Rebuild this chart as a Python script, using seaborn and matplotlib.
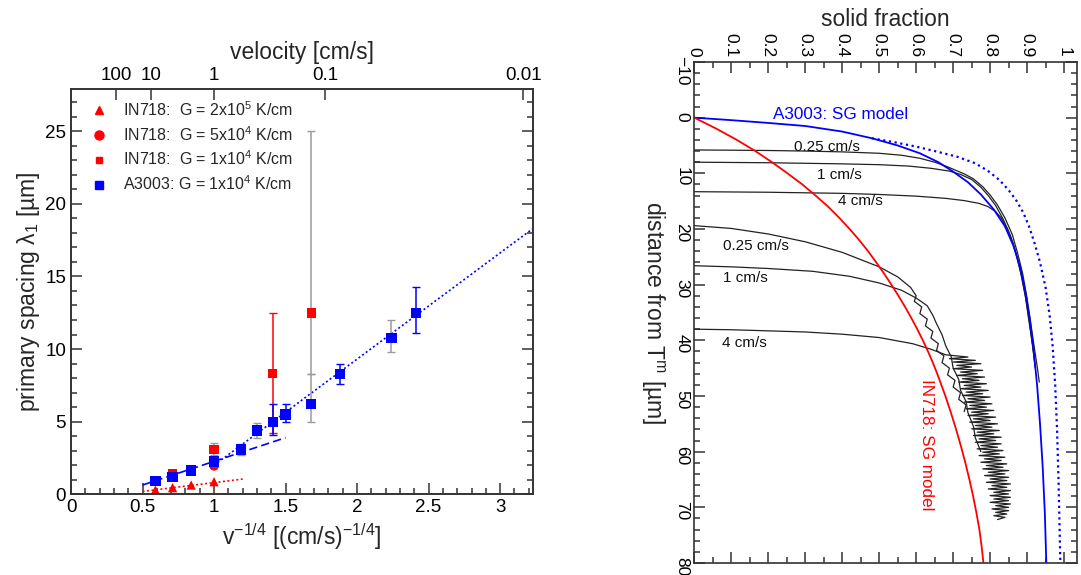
"""Primary spacing vs. velocity (left) and solid fraction profiles (right)."""
import matplotlib
matplotlib.use("Agg")
import seaborn as sns
import matplotlib.pyplot as plt
from matplotlib.lines import Line2D
from matplotlib.ticker import MultipleLocator, FixedLocator, FuncFormatter

# ---------------- left panel data: lambda_1 vs v^-1/4 ----------------
a3003_x = [0.59, 0.71, 0.84, 1.00, 1.19, 1.30, 1.41, 1.50, 1.68, 1.88, 2.24, 2.41]
a3003_y = [0.92, 1.21, 1.63, 2.27, 3.08, 4.39, 4.96, 5.50, 6.20, 8.30, 10.76, 12.48]
a3003_err_lo = [0.15, 0.20, 0.15, 0.30, 0.40, 0.50, 0.85, 0.50, 1.20, 0.70, 0.96, 1.38]
a3003_err_hi = [0.15, 0.20, 0.15, 0.30, 0.40, 0.50, 1.25, 0.70, 2.10, 0.70, 1.24, 1.80]

in718_g1e4_x = [0.71, 1.00, 1.41, 1.68]
in718_g1e4_y = [1.42, 3.10, 8.34, 12.48]
in718_g1e4_err_lo = [0.15, 0.40, 4.15, 4.20]
in718_g1e4_err_hi = [0.15, 0.40, 4.15, 12.50]

in718_g5e4_x = [0.71, 1.00]
in718_g5e4_y = [1.28, 1.97]

in718_g2e5_x = [0.59, 0.71, 0.84, 1.00]
in718_g2e5_y = [0.30, 0.46, 0.64, 0.87]

fit_a3003_low_x = [0.50, 1.50]
fit_a3003_low_y = [0.64, 3.90]
fit_a3003_high_x = [1.00, 3.23]
fit_a3003_high_y = [2.00, 18.30]
fit_in718_x = [0.50, 1.20]
fit_in718_y = [0.20, 1.05]

velocity_ticks = [100, 10, 1, 0.1, 0.01]
velocity_labels = ["100", "10", "1", "0.1", "0.01"]

legend_labels = [
    r"IN718:  G = 2x10$^{5}$ K/cm",
    r"IN718:  G = 5x10$^{4}$ K/cm",
    r"IN718:  G = 1x10$^{4}$ K/cm",
    r"A3003: G = 1x10$^{4}$ K/cm",
]

# ---------------- right panel data: solid fraction vs distance ----------------
sg_a3003_fs = [0.0, 0.10, 0.20, 0.30, 0.40, 0.48, 0.55, 0.61, 0.66, 0.70, 0.74,
               0.775, 0.81, 0.84, 0.863, 0.882, 0.896, 0.908, 0.918, 0.927,
               0.935, 0.942, 0.948, 0.952]
sg_a3003_d = [0.0, 0.45, 0.95, 1.5, 2.5, 3.7, 5.0, 6.4, 8.0, 9.7, 11.6,
              13.8, 16.5, 19.5, 23.0, 27.0, 31.5, 36.5, 42.0, 48.0,
              55.0, 62.5, 71.0, 80.0]

alt_a3003_fs = [0.48, 0.54, 0.60, 0.65, 0.71, 0.76, 0.795, 0.825, 0.85, 0.872,
                0.89, 0.905, 0.92, 0.935, 0.95, 0.961, 0.969, 0.976, 0.981,
                0.985, 0.99]
alt_a3003_d = [3.7, 4.4, 5.2, 6.0, 7.0, 8.2, 9.6, 11.2, 13.0, 15.0,
               17.1, 19.5, 22.5, 26.0, 30.5, 35.5, 41.0, 48.0, 56.0,
               65.0, 80.0]

sg_in718_fs = [0.0, 0.06, 0.115, 0.165, 0.21, 0.252, 0.292, 0.328, 0.362, 0.392,
               0.42, 0.446, 0.47, 0.492, 0.513, 0.533, 0.552, 0.57, 0.587,
               0.603, 0.618, 0.632, 0.645, 0.657, 0.668, 0.679, 0.694, 0.708,
               0.721, 0.733, 0.744, 0.754, 0.763, 0.771, 0.777, 0.782]
sg_in718_d = [0.0, 2.0, 4.0, 6.0, 8.0, 10.0, 12.0, 14.0, 16.0, 18.0,
              20.0, 22.0, 24.0, 26.0, 28.0, 30.0, 32.0, 34.0, 36.0,
              38.0, 40.0, 42.0, 44.0, 46.0, 48.0, 50.0, 53.0, 56.0,
              59.0, 62.0, 65.0, 68.0, 71.0, 74.0, 77.0, 80.0]

pf_a3003_025_fs = [0.0, 0.10, 0.20, 0.30, 0.40, 0.50, 0.56, 0.61, 0.65, 0.68, 0.705,
                   0.73, 0.755, 0.78, 0.80, 0.82, 0.84, 0.86, 0.875, 0.888, 0.90,
                   0.91, 0.92, 0.928, 0.933]
pf_a3003_025_d = [5.8, 5.85, 5.9, 6.0, 6.15, 6.4, 6.75, 7.3, 8.0, 8.7, 9.4,
                  10.1, 11.0, 12.4, 13.9, 15.7, 18.0, 21.0, 24.5, 28.0, 32.5,
                  37.0, 41.5, 45.0, 47.5]
pf_a3003_1_fs = [0.0, 0.10, 0.20, 0.30, 0.40, 0.50, 0.58, 0.64, 0.69, 0.72, 0.75,
                 0.775, 0.795, 0.815, 0.835, 0.855, 0.87, 0.883, 0.895, 0.905,
                 0.915, 0.922]
pf_a3003_1_d = [8.0, 8.05, 8.1, 8.2, 8.3, 8.45, 8.7, 9.1, 9.6, 10.2, 11.1,
                12.5, 14.0, 15.8, 18.2, 21.2, 24.5, 28.0, 32.0, 36.5,
                41.0, 45.0]
pf_a3003_4_fs = [0.0, 0.10, 0.20, 0.30, 0.40, 0.50, 0.60, 0.68, 0.73, 0.77, 0.795,
                 0.815, 0.83, 0.847, 0.862, 0.875, 0.887, 0.898, 0.907, 0.915, 0.92]
pf_a3003_4_d = [13.3, 13.35, 13.4, 13.5, 13.6, 13.8, 14.1, 14.5, 14.9, 15.4, 16.0,
                16.9, 18.0, 20.0, 22.5, 25.5, 29.0, 33.0, 37.0, 41.0, 43.5]

pf_in718_025_fs = [0.0, 0.10, 0.20, 0.30, 0.40, 0.50, 0.55, 0.585, 0.60, 0.595, 0.615,
                   0.61, 0.63, 0.625, 0.645, 0.64, 0.66, 0.655, 0.675, 0.67, 0.69,
                   0.685, 0.705, 0.70, 0.72, 0.715, 0.735, 0.73]
pf_in718_025_d = [19.4, 19.9, 20.9, 22.3, 24.2, 26.8, 28.6, 30.5, 32.0, 33.0, 34.0,
                  35.2, 36.2, 37.4, 38.4, 39.6, 40.6, 41.8, 42.8, 44.0, 45.0,
                  46.2, 47.2, 48.4, 49.4, 50.6, 51.6, 52.8]
pf_in718_1_fs = [0.0, 0.10, 0.20, 0.32, 0.42, 0.50, 0.56, 0.60, 0.63, 0.645, 0.655,
                 0.67, 0.68, 0.695, 0.70, 0.715, 0.72, 0.735, 0.74, 0.755, 0.76, 0.775]
pf_in718_1_d = [26.6, 26.8, 27.1, 27.6, 28.5, 29.7, 31.0, 32.4, 33.8, 35.5, 37.0,
                39.0, 41.0, 43.0, 45.0, 47.0, 49.0, 51.0, 53.0, 55.5, 57.5, 60.0]
pf_in718_4_fs = [
    0.0, 0.10, 0.20, 0.30, 0.40, 0.50, 0.59, 0.64, 0.68,
    0.74, 0.69, 0.76, 0.70, 0.775, 0.71, 0.75, 0.70, 0.78, 0.72,
    0.765, 0.71, 0.785, 0.725, 0.77, 0.715, 0.79, 0.73, 0.775, 0.72,
    0.795, 0.735, 0.78, 0.725, 0.80, 0.74, 0.785, 0.73, 0.805, 0.745,
    0.79, 0.735, 0.81, 0.75, 0.795, 0.74, 0.815, 0.755, 0.80, 0.745,
    0.82, 0.76, 0.805, 0.75, 0.825, 0.765, 0.81, 0.755, 0.83, 0.77,
    0.815, 0.76, 0.83, 0.775, 0.82, 0.765, 0.835, 0.78, 0.825, 0.77,
    0.84, 0.785, 0.83, 0.775, 0.845, 0.79, 0.835, 0.78, 0.85, 0.795,
    0.84, 0.785, 0.85, 0.80, 0.845, 0.79, 0.855, 0.805, 0.845, 0.795,
    0.855, 0.81, 0.85, 0.80, 0.855, 0.81, 0.85, 0.80, 0.855, 0.815,
    0.85, 0.805, 0.85, 0.815, 0.845, 0.81, 0.84, 0.82,
]
pf_in718_4_d = [
    38.0, 38.1, 38.3, 38.5, 38.9, 39.5, 40.6, 41.6, 42.6,
    43.0, 43.3, 43.6, 43.9, 44.2, 44.5, 44.8, 45.1, 45.4, 45.7,
    46.0, 46.3, 46.6, 46.9, 47.2, 47.5, 47.8, 48.1, 48.4, 48.7,
    49.0, 49.3, 49.6, 49.9, 50.2, 50.5, 50.8, 51.1, 51.4, 51.7,
    52.0, 52.3, 52.6, 52.9, 53.2, 53.5, 53.8, 54.1, 54.4, 54.7,
    55.0, 55.3, 55.6, 55.9, 56.2, 56.5, 56.8, 57.1, 57.4, 57.7,
    58.0, 58.3, 58.6, 58.9, 59.2, 59.5, 59.8, 60.1, 60.4, 60.7,
    61.0, 61.3, 61.6, 61.9, 62.2, 62.5, 62.8, 63.1, 63.4, 63.7,
    64.0, 64.3, 64.6, 64.9, 65.2, 65.5, 65.8, 66.1, 66.4, 66.7,
    67.0, 67.3, 67.6, 67.9, 68.2, 68.5, 68.8, 69.1, 69.4, 69.7,
    70.0, 70.3, 70.6, 70.9, 71.2, 71.5, 71.8, 72.2,
]

RED = "#ff0000"
BLUE = "#0000ff"
GRAY = "#9a9a9a"
a3003_bar_colors = [BLUE, BLUE, BLUE, GRAY, GRAY, GRAY, BLUE, BLUE, GRAY, BLUE, GRAY, BLUE]
in718_bar_colors = [GRAY, GRAY, RED, GRAY]

sns.set_style("ticks")
plt.rcParams["font.family"] = ["Liberation Sans", "DejaVu Sans"]
plt.rcParams["mathtext.fontset"] = "custom"
plt.rcParams["mathtext.rm"] = "Liberation Sans"
plt.rcParams["mathtext.it"] = "Liberation Sans:italic"
plt.rcParams["axes.linewidth"] = 1.2
plt.rcParams["axes.edgecolor"] = "#333333"

fig = plt.figure(figsize=(10.81, 5.75), dpi=100)


def style_ticks(ax, size):
    ax.tick_params(which="major", direction="in", length=8, width=1.1,
                   labelsize=size, colors="#333333", labelcolor="black")
    ax.tick_params(which="minor", direction="in", length=4.5, width=1.1,
                   colors="#333333")


# ================= left panel =================
ax = fig.add_axes([0.0657, 0.1403, 0.4274, 0.7049])

sns.lineplot(x=fit_in718_x, y=fit_in718_y, ax=ax, color=RED, lw=1.2,
             linestyle=(0, (1.2, 1.5)), sort=False, estimator=None)
sns.lineplot(x=fit_a3003_low_x, y=fit_a3003_low_y, ax=ax, color=BLUE, lw=1.2,
             linestyle=(0, (5, 2.5)), sort=False, estimator=None)
sns.lineplot(x=fit_a3003_high_x, y=fit_a3003_high_y, ax=ax, color=BLUE, lw=1.2,
             linestyle=(0, (1.2, 1.5)), sort=False, estimator=None)

for x, y, lo, hi, c in zip(in718_g1e4_x, in718_g1e4_y, in718_g1e4_err_lo,
                           in718_g1e4_err_hi, in718_bar_colors):
    ax.errorbar([x], [y], yerr=[[lo], [hi]], fmt="none", ecolor=c,
                elinewidth=1.1, capsize=3, capthick=1.0, zorder=2)
for x, y, lo, hi, c in zip(a3003_x, a3003_y, a3003_err_lo, a3003_err_hi,
                           a3003_bar_colors):
    ax.errorbar([x], [y], yerr=[[lo], [hi]], fmt="none", ecolor=c,
                elinewidth=1.1, capsize=3, capthick=1.0, zorder=2)

sns.scatterplot(x=in718_g2e5_x, y=in718_g2e5_y, ax=ax, marker="^", s=45,
                color=RED, edgecolor="none", zorder=3)
sns.scatterplot(x=in718_g5e4_x, y=in718_g5e4_y, ax=ax, marker="o", s=50,
                color=RED, edgecolor="none", zorder=3)
sns.scatterplot(x=in718_g1e4_x, y=in718_g1e4_y, ax=ax, marker="s", s=45,
                color=RED, edgecolor="none", zorder=3)
sns.scatterplot(x=a3003_x, y=a3003_y, ax=ax, marker="s", s=55,
                color=BLUE, edgecolor="none", zorder=4)

ax.set_xlim(0, 3.23)
ax.set_ylim(0, 27.9)
ax.xaxis.set_major_locator(MultipleLocator(0.5))
ax.xaxis.set_minor_locator(MultipleLocator(0.1))
ax.yaxis.set_major_locator(MultipleLocator(5))
ax.yaxis.set_minor_locator(MultipleLocator(1))
ax.xaxis.set_major_formatter(FuncFormatter(lambda v, p: f"{v:g}"))
style_ticks(ax, 13.5)
ax.tick_params(which="both", top=False, right=True)
ax.set_xlabel(r"v$^{-1/4}$ [(cm/s)$^{-1/4}$]", fontsize=16.5, labelpad=4)
ax.set_ylabel(r"primary spacing λ$_1$ [µm]", fontsize=16.5, labelpad=2)

handles = [
    Line2D([], [], ls="none", marker="^", color=RED, markersize=6),
    Line2D([], [], ls="none", marker="o", color=RED, markersize=6.5),
    Line2D([], [], ls="none", marker="s", color=RED, markersize=5),
    Line2D([], [], ls="none", marker="s", color=BLUE, markersize=5.5),
]
ax.legend(handles, legend_labels, loc="upper left", frameon=False,
          fontsize=11.5, handlelength=1.0, handletextpad=1.0,
          labelspacing=0.38, borderaxespad=0.3, bbox_to_anchor=(0.02, 1.0))

ax_top = ax.twiny()
ax_top.set_xlim(ax.get_xlim())
ax_top.xaxis.set_major_locator(FixedLocator([v ** -0.25 for v in velocity_ticks]))
ax_top.set_xticklabels(velocity_labels)
style_ticks(ax_top, 13.5)
ax_top.set_xlabel("velocity [cm/s]", fontsize=16.5, labelpad=6)

# ================= right panel =================
ar = fig.add_axes([0.6423, 0.0209, 0.354, 0.8713])

black_curves = [
    (pf_a3003_025_fs, pf_a3003_025_d),
    (pf_a3003_1_fs, pf_a3003_1_d),
    (pf_a3003_4_fs, pf_a3003_4_d),
    (pf_in718_025_fs, pf_in718_025_d),
    (pf_in718_1_fs, pf_in718_1_d),
    (pf_in718_4_fs, pf_in718_4_d),
]
for fs, d in black_curves:
    sns.lineplot(x=fs, y=d, ax=ar, color="#222222", lw=0.9, sort=False,
                 estimator=None)

sns.lineplot(x=alt_a3003_fs, y=alt_a3003_d, ax=ar, color=BLUE, lw=1.6,
             linestyle=(0, (1.0, 1.6)), sort=False, estimator=None)
sns.lineplot(x=sg_a3003_fs, y=sg_a3003_d, ax=ar, color=BLUE, lw=1.3,
             sort=False, estimator=None)
sns.lineplot(x=sg_in718_fs, y=sg_in718_d, ax=ar, color=RED, lw=1.3,
             sort=False, estimator=None)

ar.text(0.395, -0.6, "A3003: SG model", color=BLUE, fontsize=12.3,
        ha="center", va="center")
ar.text(0.627, 58.8, "IN718: SG model", color=RED, fontsize=12.3,
        ha="center", va="center", rotation=270)
curve_labels = [
    (0.36, 5.2, "0.25 cm/s"), (0.393, 10.3, "1 cm/s"), (0.448, 15.0, "4 cm/s"),
    (0.166, 23.1, "0.25 cm/s"), (0.139, 28.8, "1 cm/s"), (0.136, 40.4, "4 cm/s"),
]
for x, y, t in curve_labels:
    ar.text(x, y, t, fontsize=11, ha="center", va="center", color="#111111")

ar.set_xlim(0, 1.035)
ar.set_ylim(80, -10)
ar.xaxis.set_major_locator(MultipleLocator(0.1))
ar.xaxis.set_minor_locator(MultipleLocator(0.05))
ar.yaxis.set_major_locator(MultipleLocator(10))
ar.yaxis.set_minor_locator(MultipleLocator(2))
ar.xaxis.set_major_formatter(FuncFormatter(lambda v, p: f"{v:g}"))
style_ticks(ar, 12.5)
ar.tick_params(which="both", top=True, bottom=True, right=True,
               labeltop=True, labelbottom=False)
ar.tick_params(axis="both", which="major", labelrotation=270)
ar.xaxis.set_label_position("top")
ar.set_xlabel("solid fraction", fontsize=16.5, labelpad=5)
ar.set_ylabel(r"distance from T$^{\mathrm{m}}$ [µm]", fontsize=16.5,
              rotation=270, va="top", labelpad=6)

fig.savefig("out.png", dpi=100)
